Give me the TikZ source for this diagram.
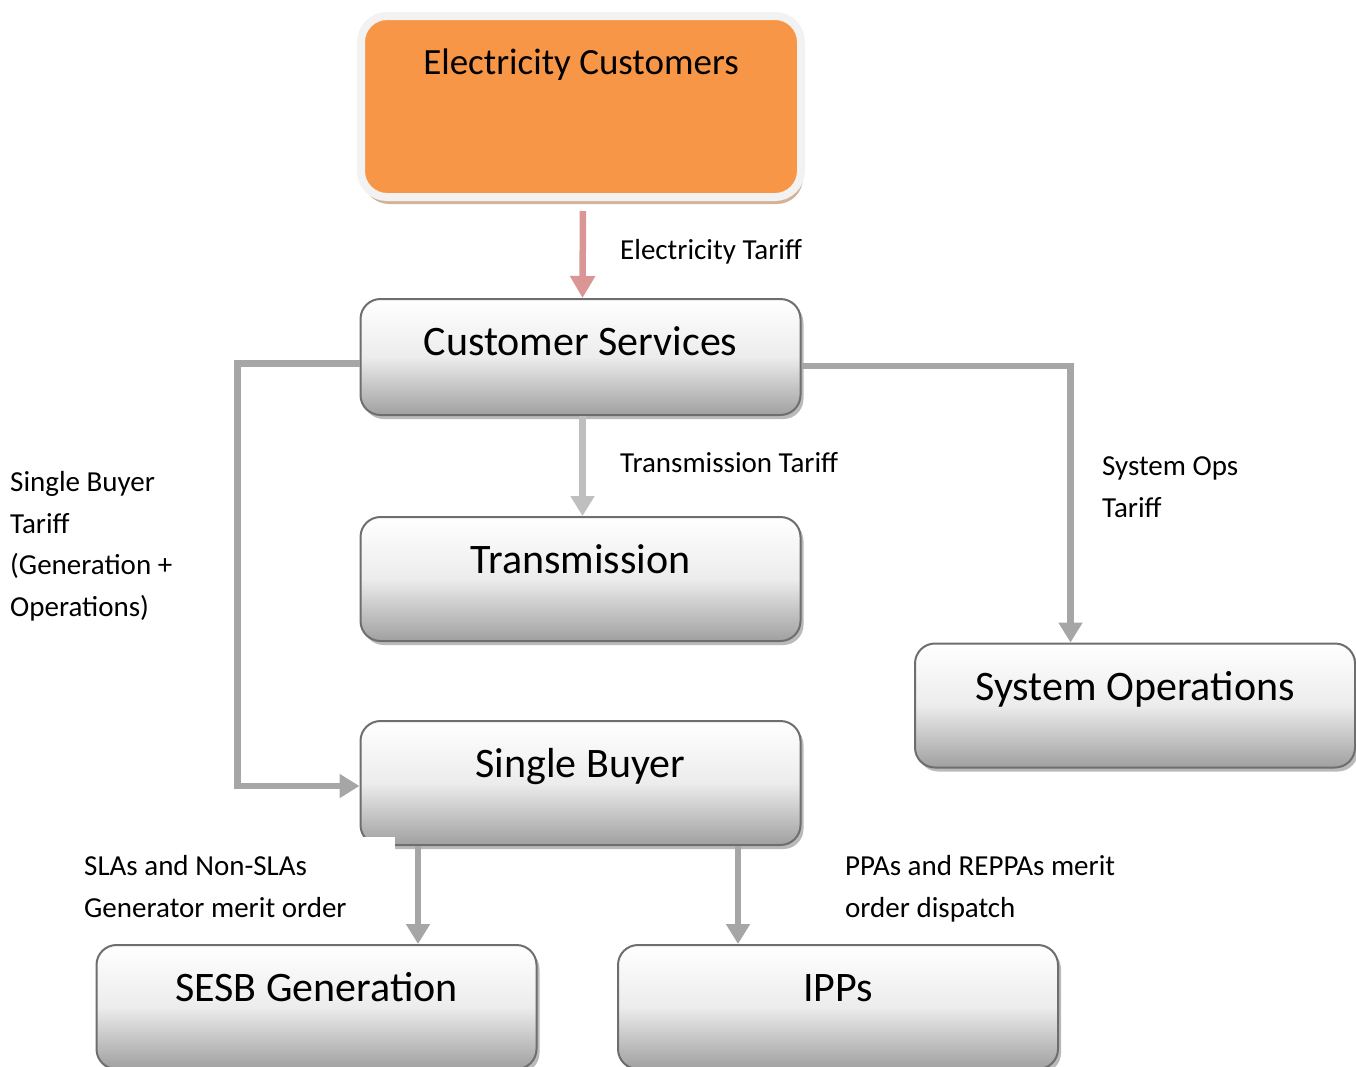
\documentclass[tikz,border=0pt]{standalone}
\usepackage{fontspec}
\setmainfont{Carlito}
\usetikzlibrary{arrows.meta,shadows}
\definecolor{custorange}{RGB}{247,150,70}
\definecolor{rimgray}{RGB}{242,242,242}
\definecolor{boxedge}{RGB}{110,110,110}
\definecolor{boxbottom}{RGB}{160,160,160}
\definecolor{flowgray}{RGB}{166,166,166}
\definecolor{lightflow}{RGB}{191,191,191}
\definecolor{tariffred}{RGB}{217,150,148}
\tikzset{
  unitbox/.style={draw=boxedge, line width=2pt, rounded corners=20pt,
    top color=white, bottom color=boxbottom, middle color=white!80!boxbottom,
    minimum width=440pt, minimum height=124pt, inner sep=0pt,
    font=\fontsize{42}{50}\selectfont, text height=30pt, text depth=41pt,
    drop shadow={shadow xshift=3pt, shadow yshift=-4pt, fill=black!45, opacity=.6}},
  flow/.style={draw=flowgray, line width=6.5pt,
    -{Triangle[width=23pt,length=20pt]}},
  note/.style={anchor=base west, align=left, inner sep=0pt,
    font=\fontsize{29}{41.5}\selectfont}
}
\begin{document}
\begin{tikzpicture}[x=1pt,y=-1pt]
  \useasboundingbox (0,0) rectangle (1356,1066);
  % boxes
  \node[draw=rimgray, line width=8pt, fill=custorange, rounded corners=26pt,
    minimum width=440pt, minimum height=181pt, inner sep=0pt,
    font=\fontsize{37}{44}\selectfont, text height=28pt, text depth=93pt,
    drop shadow={shadow xshift=2pt, shadow yshift=-7pt,
      fill={rgb,255:red,200;green,160;blue,125}, opacity=.8}]
    (cust) at (581,106.5) {Electricity Customers};
  \node[unitbox, minimum height=116pt, text depth=34pt] (serv) at (580.5,357) {Customer Services};
  \node[unitbox] (trans) at (580.5,579) {Transmission};
  \node[unitbox] (sbuyer) at (580.5,783) {Single Buyer};
  \node[unitbox] (sysops) at (1135,705.5) {System Operations};
  \node[unitbox] (sesb) at (316.5,1007) {SESB Generation};
  \node[unitbox] (ipps) at (838,1007) {IPPs};
  \fill[white] (358,837) rectangle (395,852);
  % connectors
  \draw[flow, draw=tariffred, -{Triangle[width=24pt,length=22pt]},
    shorten <=10pt] ([xshift=2pt]cust.south) -- ([xshift=2pt]serv.north);
  \draw[flow, draw=lightflow] ([xshift=2pt]serv.south) -- ([xshift=2pt]trans.north);
  \draw[flow] ([yshift=-6.5pt]serv.west) -- ++(-122,0)
    |- ([yshift=-3pt]sbuyer.west);
  \draw[flow] ([yshift=-9pt]serv.east) -| ([xshift=-64.5pt]sysops.north);
  \draw[flow] ([xshift=-162.5pt]sbuyer.south)
    -- ([xshift=-162.5pt]sbuyer.south |- sesb.north);
  \draw[flow] ([xshift=157.5pt]sbuyer.south)
    -- ([xshift=157.5pt]sbuyer.south |- ipps.north);
  % labels (anchored at the baseline of the last line)
  \node[note] (tcust) at (620,259) {Electricity Tariff};
  \node[note] (ttrans) at (620,472) {Transmission Tariff};
  \node[note] (tsys) at (1102,517) {System Ops\\Tariff};
  \node[note] (tsb) at (10,616) {Single Buyer\\Tariff\\(Generation +\\Operations)};
  \node[note] (tsla) at (84,917) {SLAs and Non-SLAs\\Generator merit order};
  \node[note] (tppa) at (845,917) {PPAs and REPPAs merit\\order dispatch};
\end{tikzpicture}
\end{document}
